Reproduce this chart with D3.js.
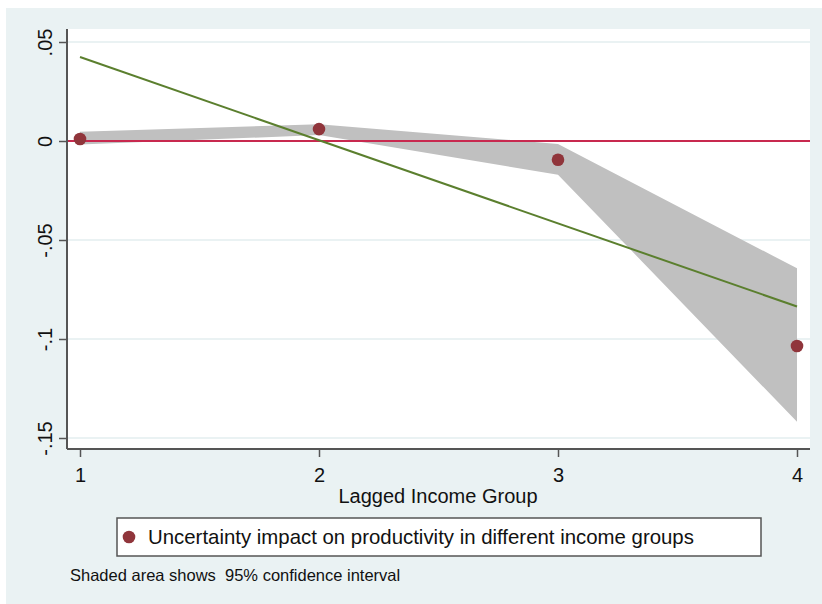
<!DOCTYPE html>
<html>
<head>
<meta charset="utf-8">
<script src="https://cdn.jsdelivr.net/npm/d3@7"></script>
<style>
  body { margin: 0; background: #fff; }
  text { font-family: "Liberation Sans", Arial, sans-serif; fill: #111; }
</style>
</head>
<body>
<svg id="chart" width="822" height="604"></svg>
<script>
// income groups on the x axis
var groups = [1, 2, 3, 4];
// point estimates
var estimates = [0.001, 0.006, -0.0095, -0.1035];
// 95% confidence band
var ciUpper = [0.0047, 0.0085, -0.0015, -0.0643];
var ciLower = [-0.0018, 0.003, -0.0170, -0.1418];
// straight fitted line, value at first and last group
var fitGroups = [1, 4];
var fitValues = [0.0424, -0.0836];
var yTicks = [0.05, 0, -0.05, -0.1, -0.15];
var yTickLabels = ['.05', '0', '-.05', '-.1', '-.15'];

var svg = d3.select('#chart');
// note: "top" is taken by window.top, so keep these prefixed
var plotLeft = 67, plotRight = 810, plotTop = 29, plotBottom = 449;
var font = '"Liberation Sans", Arial, sans-serif';

// outer background
svg.append('rect').attr('x', 6).attr('y', 8).attr('width', 816).attr('height', 596)
  .attr('fill', '#eaf2f3');
svg.append('rect').attr('x', plotLeft).attr('y', plotTop)
  .attr('width', plotRight - plotLeft).attr('height', plotBottom - plotTop)
  .attr('fill', '#fff');

var x = d3.scaleLinear().domain([1, 4]).range([80, 797]);
var y = d3.scaleLinear().domain([0, 0.05]).range([141, 42]);

// gridlines
svg.append('g').selectAll('line').data(yTicks).enter().append('line')
  .attr('x1', plotLeft).attr('x2', plotRight)
  .attr('y1', function(d) { return y(d); })
  .attr('y2', function(d) { return y(d); })
  .attr('stroke', '#eaf2f3').attr('stroke-width', 2);

// confidence band
var band = groups.map(function(g, i) { return { g: g, hi: ciUpper[i], lo: ciLower[i] }; });
svg.append('path').datum(band)
  .attr('fill', '#c0c0c0')
  .attr('d', d3.area()
    .x(function(d) { return x(d.g); })
    .y0(function(d) { return y(d.lo); })
    .y1(function(d) { return y(d.hi); }));

// zero line
svg.append('line').attr('x1', plotLeft).attr('x2', plotRight)
  .attr('y1', y(0)).attr('y2', y(0))
  .attr('stroke', '#c8294f').attr('stroke-width', 2);

// fitted line
svg.append('path').datum(fitGroups.map(function(g, i) { return [g, fitValues[i]]; }))
  .attr('fill', 'none').attr('stroke', '#5b7f2e').attr('stroke-width', 2)
  .attr('d', d3.line().x(function(d) { return x(d[0]); }).y(function(d) { return y(d[1]); }));

// points
svg.append('g').selectAll('circle').data(groups).enter().append('circle')
  .attr('cx', function(d) { return x(d); })
  .attr('cy', function(d, i) { return y(estimates[i]); })
  .attr('r', 6.3)
  .attr('fill', '#90353b');

// y axis
var yAxis = svg.append('g').attr('transform', 'translate(' + plotLeft + ',0)')
  .call(d3.axisLeft(y).tickValues(yTicks).tickSize(8).tickFormat(function(d, i) { return yTickLabels[i]; }));
yAxis.select('.domain').attr('d', 'M0,' + plotTop + 'V' + plotBottom).attr('stroke', '#555').attr('stroke-width', 2);
yAxis.selectAll('.tick line').attr('stroke', '#555').attr('stroke-width', 1.5);
yAxis.selectAll('.tick text')
  .attr('x', null).attr('dy', null)
  .attr('transform', 'translate(-15,0) rotate(-90)')
  .attr('text-anchor', 'middle')
  .style('font-size', '20px').style('font-family', font)
  .attr('fill', '#111');

// x axis
var xAxis = svg.append('g').attr('transform', 'translate(0,' + plotBottom + ')')
  .call(d3.axisBottom(x).tickValues(groups).tickSize(8).tickFormat(d3.format('d')));
xAxis.select('.domain').attr('d', 'M' + plotLeft + ',0H' + plotRight).attr('stroke', '#555').attr('stroke-width', 2);
xAxis.selectAll('.tick line').attr('stroke', '#555').attr('stroke-width', 1.5);
xAxis.selectAll('.tick text')
  .attr('y', 33).attr('dy', null)
  .style('font-size', '20px').style('font-family', font)
  .attr('fill', '#111');

svg.append('text').attr('x', 438).attr('y', 503).attr('text-anchor', 'middle')
  .style('font-size', '20px').text('Lagged Income Group');

// legend
svg.append('rect').attr('x', 117).attr('y', 518).attr('width', 644).attr('height', 38)
  .attr('fill', '#fff').attr('stroke', '#555').attr('stroke-width', 1.5);
svg.append('circle').attr('cx', 129).attr('cy', 537).attr('r', 6.3).attr('fill', '#90353b');
svg.append('text').attr('x', 148).attr('y', 544)
  .style('font-size', '20.4px').text('Uncertainty impact on productivity in different income groups');

svg.append('text').attr('x', 70).attr('y', 581)
  .style('font-size', '16.5px').style('white-space', 'pre').text('Shaded area shows  95% confidence interval');
</script>
</body>
</html>
